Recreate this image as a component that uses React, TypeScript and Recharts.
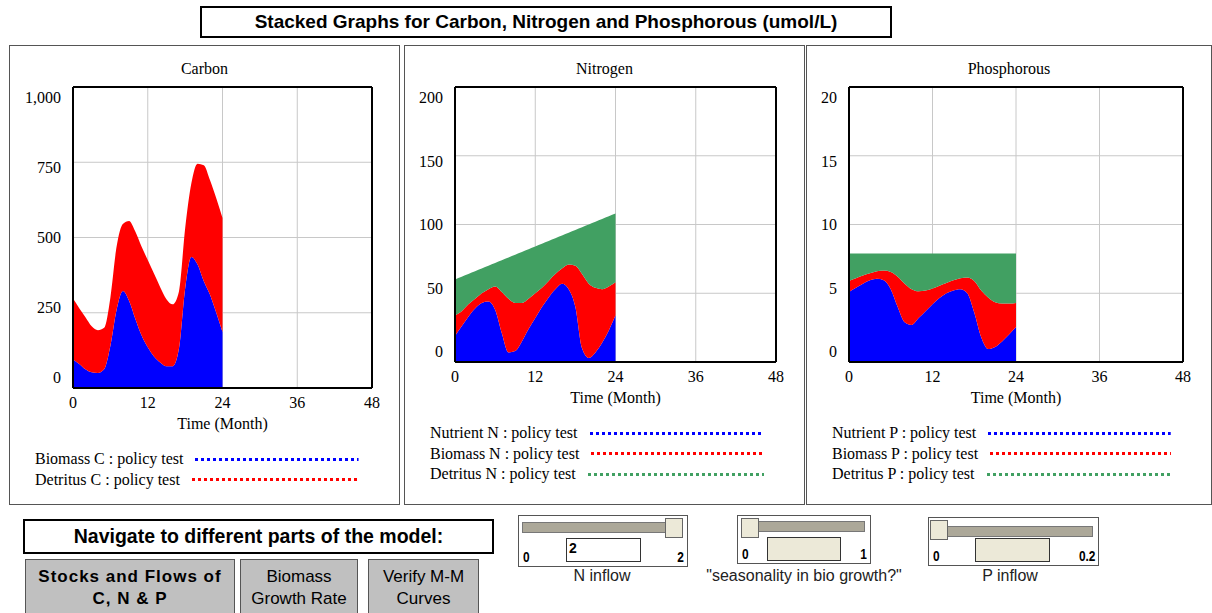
import React from 'react';
import { AreaChart, Area, XAxis, YAxis, CartesianGrid } from 'recharts';

// time axis (months) and the simulated values, one entry per month
const months = [0, 1, 2, 3, 4, 5, 6, 7, 8, 9, 10, 11, 12, 13, 14, 15, 16, 17, 18, 19, 20, 21, 22, 23, 24];

const biomassC = [95, 80, 62, 52, 50, 62, 140, 260, 322, 290, 230, 175, 135, 105, 85, 72, 72, 130, 330, 435, 410, 355, 310, 250, 186];
const detritusC = [202, 185, 173, 153, 142, 138, 160, 210, 223, 265, 290, 295, 290, 275, 250, 223, 206, 190, 200, 245, 335, 385, 380, 380, 379];

const nutrientN = [19, 26, 33, 39, 43, 44, 38, 21, 7, 8, 15, 24, 32, 40, 47, 53, 57, 53, 40, 10, 3, 7, 14, 23, 34];
const biomassN = [15, 11, 9, 7, 7, 9, 17, 30, 39, 35, 28, 22, 18, 14, 12, 11, 11, 18, 30, 54, 54, 47, 39, 32, 24];
const detritusN = [26, 25, 22, 20, 18, 17, 17, 23, 30, 35, 37, 36, 34, 32, 29, 26, 24, 23, 26, 34, 43, 48, 51, 51, 50];

const nutrientP = [5.1, 5.4, 5.7, 5.95, 6.05, 5.95, 5.3, 4.0, 2.9, 2.7, 3.2, 3.7, 4.2, 4.65, 5.0, 5.2, 5.3, 5.0, 3.6, 1.8, 0.95, 1.1, 1.5, 2.0, 2.55];
const biomassP = [0.8, 0.7, 0.6, 0.5, 0.55, 0.7, 1.25, 2.2, 2.8, 2.6, 1.95, 1.5, 1.15, 0.9, 0.75, 0.75, 0.8, 1.15, 2.3, 3.4, 3.75, 3.25, 2.75, 2.25, 1.75];
const detritusP = [2.0, 1.8, 1.6, 1.45, 1.3, 1.25, 1.35, 1.7, 2.2, 2.6, 2.75, 2.7, 2.55, 2.35, 2.15, 1.95, 1.8, 1.75, 2.0, 2.7, 3.2, 3.55, 3.65, 3.65, 3.6];

const xTicks = [0, 12, 24, 36, 48];
const carbonTicks = [0, 250, 500, 750, 1000];
const nitrogenTicks = [0, 50, 100, 150, 200];
const phosphorousTicks = [0, 5, 10, 15, 20];

const BLUE = '#0000ff';
const RED = '#ff0000';
const GREEN = '#41a062';

const SERIF = "'Liberation Serif', 'Times New Roman', serif";
const SANS = "'Liberation Sans', Arial, sans-serif";

const carbonData = months.map((t, i) => ({ t, biomass: biomassC[i], detritus: detritusC[i] }));
const nitrogenData = months.map((t, i) => ({ t, nutrient: nutrientN[i], biomass: biomassN[i], detritus: detritusN[i] }));
const phosphorousData = months.map((t, i) => ({ t, nutrient: nutrientP[i], biomass: biomassP[i], detritus: detritusP[i] }));

type Series = { key: string; label: string; color: string };

const carbonSeries: Series[] = [
  { key: 'biomass', label: 'Biomass C : policy test', color: BLUE },
  { key: 'detritus', label: 'Detritus C : policy test', color: RED },
];
const nitrogenSeries: Series[] = [
  { key: 'nutrient', label: 'Nutrient N : policy test', color: BLUE },
  { key: 'biomass', label: 'Biomass N : policy test', color: RED },
  { key: 'detritus', label: 'Detritus N : policy test', color: GREEN },
];
const phosphorousSeries: Series[] = [
  { key: 'nutrient', label: 'Nutrient P : policy test', color: BLUE },
  { key: 'biomass', label: 'Biomass P : policy test', color: RED },
  { key: 'detritus', label: 'Detritus P : policy test', color: GREEN },
];

const XTick = (props: any) => {
  const { x, y, payload } = props;
  return (
    <text x={x} y={y + 20} textAnchor="middle" fontFamily={SERIF} fontSize={16} fill="#000">
      {payload.value}
    </text>
  );
};

// vensim squeezes the value labels slightly towards the middle of the axis
const makeYTick = (yMax: number) => (props: any) => {
  const { x, y, payload } = props;
  const f = payload.value / yMax;
  return (
    <text x={x - 12} y={y + 21 * f - 5} textAnchor="end" fontFamily={SERIF} fontSize={16} fill="#000">
      {payload.value.toLocaleString('en-US')}
    </text>
  );
};

interface PanelProps {
  left: number;
  width: number;
  title: string;
  data: any[];
  series: Series[];
  yTicks: number[];
  plotLeft: number;
  plotWidth: number;
  plotHeight: number;
}

const Panel: React.FC<PanelProps> = ({ left, width, title, data, series, yTicks, plotLeft, plotWidth, plotHeight }) => {
  const innerW = width - 2;
  const innerH = 458;
  const plotTop = 41;
  const xAxisH = 50;
  const yMax = yTicks[yTicks.length - 1];
  const right = innerW - plotLeft - plotWidth;
  const bottom = innerH - plotTop - plotHeight;
  const plotBottom = plotTop + plotHeight;

  return (
    <div style={{ position: 'absolute', left, top: 45, width: innerW, height: innerH, border: '1px solid #555', background: '#fff' }}>
      <div style={{ position: 'absolute', left: 0, top: 13, width: innerW, textAlign: 'center', fontFamily: SERIF, fontSize: 16, lineHeight: '20px' }}>
        {title}
      </div>
      <AreaChart
        width={innerW}
        height={innerH}
        data={data}
        margin={{ top: plotTop - 1, right: right - 1, bottom: bottom - xAxisH, left: 0 }}
        style={{ position: 'absolute', left: 0, top: 0 }}
      >
        <CartesianGrid stroke="#c8c8c8" strokeWidth={1} />
        {series.map((s) => (
          <Area
            key={s.key}
            type="monotone"
            dataKey={s.key}
            stackId="1"
            stroke="none"
            fill={s.color}
            fillOpacity={1}
            dot={false}
            activeDot={false}
            isAnimationActive={false}
          />
        ))}
        <XAxis
          dataKey="t"
          type="number"
          domain={[0, 48]}
          ticks={xTicks}
          height={xAxisH}
          tickSize={0}
          tickMargin={0}
          tickLine={false}
          axisLine={{ stroke: '#000', strokeWidth: 2 }}
          tick={<XTick />}
          interval={0}
        />
        <XAxis xAxisId="top" orientation="top" type="number" domain={[0, 48]} height={1} tick={false} tickLine={false} axisLine={{ stroke: '#000', strokeWidth: 2 }} />
        <YAxis
          type="number"
          domain={[0, yMax]}
          ticks={yTicks}
          width={plotLeft}
          tickSize={0}
          tickMargin={0}
          tickLine={false}
          axisLine={{ stroke: '#000', strokeWidth: 2 }}
          tick={makeYTick(yMax)}
          interval={0}
        />
        <YAxis yAxisId="right" orientation="right" type="number" domain={[0, yMax]} width={1} tick={false} tickLine={false} axisLine={{ stroke: '#000', strokeWidth: 2 }} />
      </AreaChart>
      <div style={{ position: 'absolute', left: plotLeft, top: plotBottom + 26, width: plotWidth, textAlign: 'center', fontFamily: SERIF, fontSize: 16, lineHeight: '20px' }}>
        Time (Month)
      </div>
      <div style={{ position: 'absolute', left: 25, right: 40, top: plotBottom + 71 - 10.25 }}>
        {series.map((s) => (
          <div key={s.key} style={{ display: 'flex', alignItems: 'center', height: 20.5, fontFamily: SERIF, fontSize: 16 }}>
            <span style={{ whiteSpace: 'nowrap' }}>{s.label}</span>
            <div style={{ flex: 1, marginLeft: 12, height: 3 }}>
              <svg width="100%" height="3" style={{ display: 'block' }}>
                <line x1="0" y1="1.5" x2="100%" y2="1.5" stroke={s.color} strokeWidth={3} strokeDasharray="3 3" />
              </svg>
            </div>
          </div>
        ))}
      </div>
    </div>
  );
};

const boxText: React.CSSProperties = { fontFamily: SANS, fontWeight: 'bold', color: '#000' };

const buttonStyle = (left: number, width: number): React.CSSProperties => ({
  position: 'absolute',
  left,
  top: 559,
  width,
  height: 60,
  background: '#c0c0c0',
  border: '1px solid #555',
  boxSizing: 'border-box',
  textAlign: 'center',
  fontFamily: SANS,
  fontSize: 17,
  lineHeight: '22px',
  paddingTop: 6,
  color: '#000',
});

const sliderLabel: React.CSSProperties = { position: 'absolute', bottom: 1, fontFamily: SANS, fontWeight: 'bold', fontSize: 14, transform: 'scaleX(0.85)' };

const Slider = ({ left, top, width, height, thumbLeft, trackTop, inputLeft, inputWidth, inputTop, inputValue, inputBg, min, max, caption, captionCenter }: any) => (
  <>
    <div style={{ position: 'absolute', left, top, width, height, border: '1px solid #555', background: '#fff', boxSizing: 'border-box' }}>
      <div style={{ position: 'absolute', left: 3, top: trackTop, width: width - 10, height: 11, background: '#aca899', border: '1px solid #777', boxSizing: 'border-box' }} />
      <div style={{ position: 'absolute', left: thumbLeft, top: 2, width: 18, height: 20, background: '#ece9d8', border: '1px solid #666', boxSizing: 'border-box' }} />
      <div style={{ position: 'absolute', left: inputLeft, top: inputTop, width: inputWidth, height: 24, background: inputBg, border: '1px solid #333', boxSizing: 'border-box', fontFamily: SANS, fontWeight: 'bold', fontSize: 14, paddingLeft: 2, lineHeight: '18px' }}>
        {inputValue}
      </div>
      <div style={{ ...sliderLabel, left: 4, transformOrigin: 'left' }}>{min}</div>
      <div style={{ ...sliderLabel, right: 3, transformOrigin: 'right' }}>{max}</div>
    </div>
    <div style={{ position: 'absolute', left: captionCenter - 150, width: 300, top: 567, textAlign: 'center', fontFamily: SANS, fontSize: 16, color: '#222' }}>
      {caption}
    </div>
  </>
);

export default function App() {
  return (
    <div style={{ position: 'absolute', left: 0, top: 0, width: 1212, height: 613, background: '#fff', overflow: 'hidden' }}>
      <div style={{ position: 'absolute', left: 200, top: 6, width: 692, height: 32, border: '2px solid #000', boxSizing: 'border-box', textAlign: 'center', lineHeight: '28px', fontSize: 19, ...boxText }}>
        Stacked Graphs for Carbon, Nitrogen and Phosphorous (umol/L)
      </div>

      <Panel left={9} width={391} title="Carbon" data={carbonData} series={carbonSeries} yTicks={carbonTicks} plotLeft={63} plotWidth={299} plotHeight={301} />
      <Panel left={404} width={401} title="Nitrogen" data={nitrogenData} series={nitrogenSeries} yTicks={nitrogenTicks} plotLeft={50} plotWidth={321} plotHeight={275} />
      <Panel left={806} width={406} title="Phosphorous" data={phosphorousData} series={phosphorousSeries} yTicks={phosphorousTicks} plotLeft={42} plotWidth={334} plotHeight={275} />

      <div style={{ position: 'absolute', left: 23, top: 519, width: 471, height: 35, border: '2px solid #000', boxSizing: 'border-box', textAlign: 'center', lineHeight: '31px', fontSize: 19.5, ...boxText }}>
        Navigate to different parts of the model:
      </div>
      <div style={{ ...buttonStyle(25, 210), fontWeight: 'bold', letterSpacing: 1 }}>
        Stocks and Flows of
        <br />
        C, N &amp; P
      </div>
      <div style={buttonStyle(240, 118)}>
        Biomass
        <br />
        Growth Rate
      </div>
      <div style={buttonStyle(368, 111)}>
        Verify M-M
        <br />
        Curves
      </div>

      <Slider left={518} top={515} width={170} height={52} thumbLeft={146} trackTop={6} inputLeft={47} inputWidth={75} inputTop={22} inputValue="2" inputBg="#fff" min="0" max="2" caption="N inflow" captionCenter={602} />
      <Slider left={737} top={515} width={134} height={49} thumbLeft={3} trackTop={5} inputLeft={29} inputWidth={74} inputTop={21} inputValue="" inputBg="#ece9d8" min="0" max="1" caption={'"seasonality in bio growth?"'} captionCenter={804} />
      <Slider left={928} top={517} width={171} height={49} thumbLeft={1} trackTop={8} inputLeft={46} inputWidth={75} inputTop={20} inputValue="" inputBg="#ece9d8" min="0" max="0.2" caption="P inflow" captionCenter={1010} />
    </div>
  );
}
